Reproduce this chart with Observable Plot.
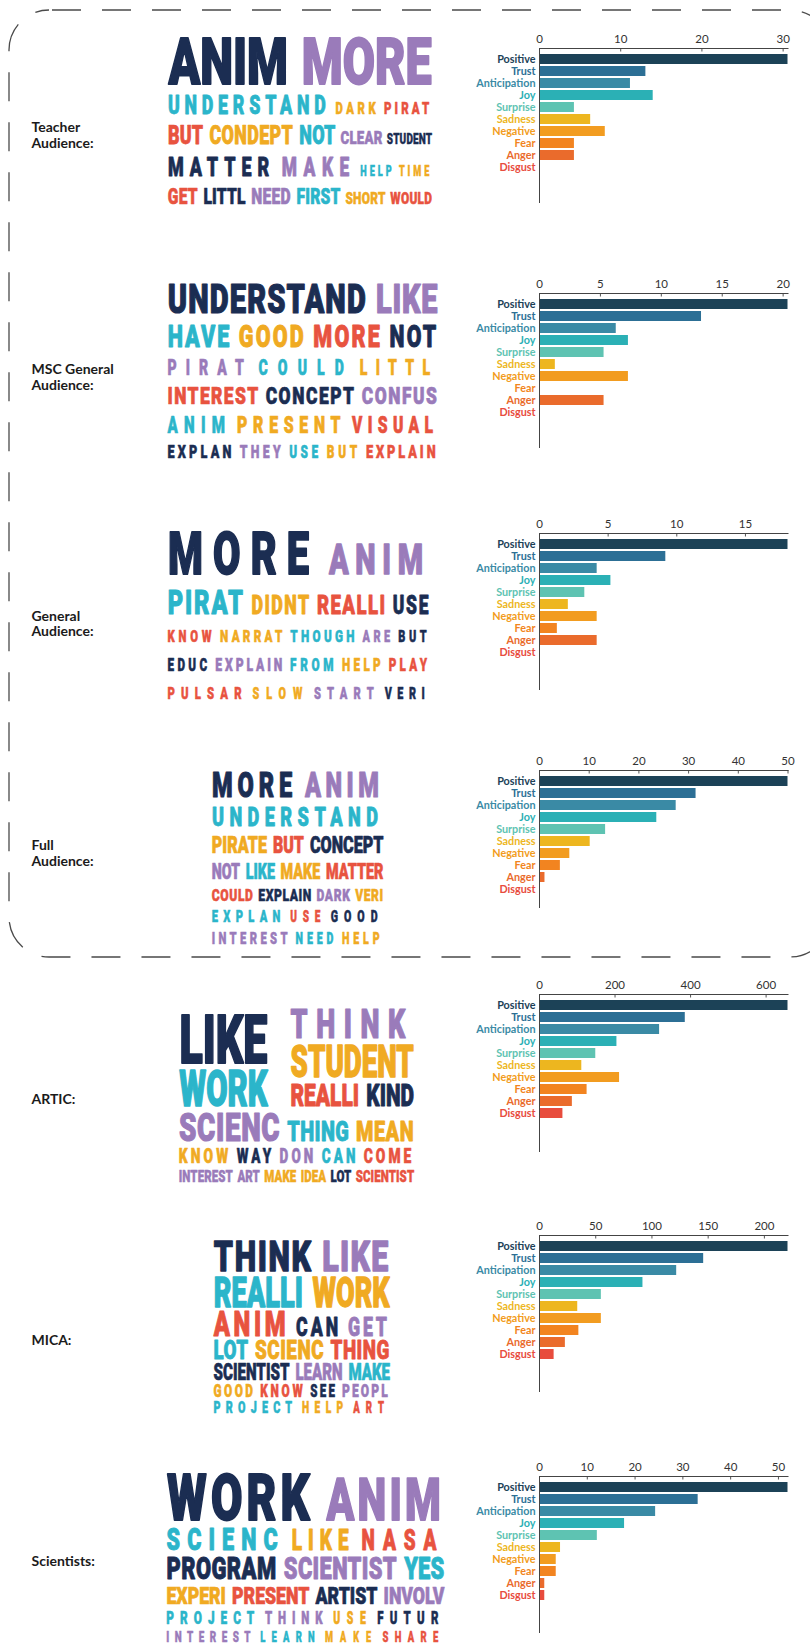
<!DOCTYPE html>
<html><head><meta charset="utf-8">
<script src="https://cdn.jsdelivr.net/npm/d3@7"></script>
<script src="https://cdn.jsdelivr.net/npm/@observablehq/plot@0.6"></script>
<style>
html,body{margin:0;padding:0;background:#fff;}
#page{position:relative;width:810px;height:1644px;overflow:hidden;background:#fff;}
</style></head><body><div id="page"></div>
<script>
// ---------------- DATA ----------------
const emotions = ["Positive","Trust","Anticipation","Joy","Surprise","Sadness","Negative","Fear","Anger","Disgust"];

const teacherCounts   = [30.6, 13.1, 11.2, 14.0, 4.3, 6.3, 8.1, 4.3, 4.3, 0];
const mscCounts       = [20.4, 13.3, 6.3, 7.3, 5.3, 1.3, 7.3, 0, 5.3, 0];
const generalCounts   = [18.1, 9.2, 4.2, 5.2, 3.3, 2.1, 4.2, 1.3, 4.2, 0];
const fullCounts      = [50, 31.5, 27.5, 23.6, 13.3, 10.2, 6.1, 4.2, 1.1, 0];
const articCounts     = [658, 386, 318, 205, 149, 112, 212, 126, 87, 62];
const micaCounts      = [221, 146, 122, 92, 55, 34, 55, 35, 23, 13];
const scientistCounts = [52, 33.2, 24.3, 17.8, 12.1, 4.4, 3.5, 3.5, 1.1, 1.1];

const panelLabels = ["Teacher\nAudience:", "MSC General\nAudience:", "General\nAudience:", "Full\nAudience:", "ARTIC:", "MICA:", "Scientists:"];

// word clouds: rows of words, parallel weights and colour groups (nested arrays = stacked sub-blocks)
// colour groups: N = navy, P = purple, T = teal, O = orange, R = red
const teacherWords = [["ANIM","MORE"],["UNDERSTAND","DARK","PIRAT"],["BUT","CONDEPT","NOT","CLEAR","STUDENT"],["MATTER","MAKE","HELP","TIME"],["GET","LITTL","NEED","FIRST","SHORT","WOULD"]];
const teacherWeights = [[47,47],[18.3,12.3,12.3],[18,18,18,13.3,10],[19,19,10,10],[15.7,15.7,15.7,15.7,12,12]];
const teacherTones = [["N","P"],["T","O","R"],["R","O","T","P","N"],["N","P","T","O"],["R","N","P","T","O","R"]];

const mscWords = [["UNDERSTAND","LIKE"],["HAVE","GOOD","MORE","NOT"],["PIRAT","COULD","LITTL"],["INTEREST","CONCEPT","CONFUS"],["ANIM","PRESENT","VISUAL"],["EXPLAN","THEY","USE","BUT","EXPLAIN"]];
const mscWeights = [[29.3,29.3],[22.3,22.3,22.3,22.3],[15.7,15.7,15.7],[17.7,17.7,17.7],[16.7,16.7,16.7],[13.3,13.3,13.3,13.3,13.3]];
const mscTones = [["N","P"],["T","O","R","N"],["P","T","O"],["R","N","P"],["T","O","R"],["N","P","T","O","R"]];

const generalWords = [["MORE","ANIM"],["PIRAT","DIDNT","REALLI","USE"],["KNOW","NARRAT","THOUGH","ARE","BUT"],["EDUC","EXPLAIN","FROM","HELP","PLAY"],["PULSAR","SLOW","START","VERI"]];
const generalWeights = [[42.7,31],[24.3,18.3,19,18.3],[12.3,12.3,12.3,12.3,12.3],[12.7,12.7,12.7,12.7,12.7],[12.3,12.3,12.3,12.3]];
const generalTones = [["N","P"],["T","O","R","N"],["R","O","T","P","N"],["N","P","T","O","R"],["R","O","P","N"]];

const fullWords = [["MORE","ANIM"],["UNDERSTAND"],["PIRATE","BUT","CONCEPT"],["NOT","LIKE","MAKE","MATTER"],["COULD","EXPLAIN","DARK","VERI"],["EXPLAN","USE","GOOD"],["INTEREST","NEED","HELP"]];
const fullWeights = [[25,25],[18.7],[17.3,17.3,17.3],[16,16,16,16],[12.3,12.3,12.3,12.3],[12,12,12],[11.7,11.7,11.7]];
const fullTones = [["N","P"],["T"],["O","R","N"],["P","T","O","R"],["R","N","P","O"],["T","R","N"],["P","T","O"]];

const articWords = [[[["LIKE"],["WORK"]],[["THINK"],["STUDENT"],["REALLI","KIND"]]],["SCIENC","THING","MEAN"],["KNOW","WAY","DON","CAN","COME"],["INTEREST","ART","MAKE","IDEA","LOT","SCIENTIST"]];
const articWeights = [[[[48],[36]],[[29],[32],[22,22]]],[28,20,20],[14.7,14.7,14.7,14.7,14.7],[11.5,11.5,11.5,11.5,11.5,11.5]];
const articTones = [[[["N"],["T"]],[["P"],["O"],["R","N"]]],["P","T","O"],["O","N","P","T","R"],["P","P","O","O","N","R"]];

const micaWords = [["THINK","LIKE"],["REALLI","WORK"],["ANIM","CAN","GET"],["LOT","SCIENC","THING"],["SCIENTIST","LEARN","MAKE"],["GOOD","KNOW","SEE","PEOPL"],["PROJECT","HELP","ART"]];
const micaWeights = [[31,31],[31,31],[25,19,19],[19,19,19],[16.8,16.8,16.8],[12.6,12.6,12.6,12.6],[11.5,11.5,11.5]];
const micaTones = [["N","P"],["T","O"],["R","N","P"],["T","O","R"],["N","P","T"],["O","R","N","P"],["T","O","R"]];

const scientistWords = [["WORK","ANIM"],["SCIENC","LIKE","NASA"],["PROGRAM","SCIENTIST","YES"],["EXPERI","PRESENT","ARTIST","INVOLV"],["PROJECT","THINK","USE","FUTUR"],["INTEREST","LEARN","MAKE","SHARE"]];
const scientistWeights = [[47,42],[23,21,21],[22,22,22],[17.8,17.8,17.8,17.8],[12.6,12.6,12.6,12.6],[10.5,10.5,10.5,10.5]];
const scientistTones = [["N","P"],["T","O","R"],["N","P","T"],["O","R","N","P"],["T","P","O","N"],["P","T","O","R"]];

// ---------------- STYLE / LAYOUT ----------------
const emotionPalette = ["#1c4257","#2c6f95","#3a8aa5","#2bb0b5","#5ec3b2","#edb61f","#f29c20","#f28420","#ea6b2c","#e84c3d"];
const toneNames = ["N","P","T","O","R"];
const tonePalette = ["#1b2d52","#9a7bba","#2bb5ca","#f0aa22","#e8533f"];

const panels = [
  {counts: teacherCounts, words: teacherWords, weights: teacherWeights, tones: teacherTones, axisY: 48.3, frameH: 155, labelY: 134.7, box: [167, 432, 36, 203.3]},
  {counts: mscCounts, words: mscWords, weights: mscWeights, tones: mscTones, axisY: 293.3, frameH: 155, labelY: 376.7, box: [166.7, 438.3, 283.3, 457.7]},
  {counts: generalCounts, words: generalWords, weights: generalWeights, tones: generalTones, axisY: 533.3, frameH: 157, labelY: 623, box: [166.7, 430, 530.7, 698.3]},
  {counts: fullCounts, words: fullWords, weights: fullWeights, tones: fullTones, axisY: 770, frameH: 138, labelY: 852.5, box: [211, 383.3, 771.7, 943.3]},
  {counts: articCounts, words: articWords, weights: articWeights, tones: articTones, axisY: 994, frameH: 158, labelY: 1098.3, box: [178, 414, 1008, 1181]},
  {counts: micaCounts, words: micaWords, weights: micaWeights, tones: micaTones, axisY: 1235, frameH: 157, labelY: 1339.3, box: [212.7, 389.8, 1239.8, 1412.7]},
  {counts: scientistCounts, words: scientistWords, weights: scientistWeights, tones: scientistTones, axisY: 1476, frameH: 157, labelY: 1560.5, box: [165.6, 444.4, 1472.4, 1641]}
];

// ---------------- WORD CLOUD LAYOUT ----------------
const CLOUD_FONT = 'Roboto, "Liberation Sans", "DejaVu Sans", sans-serif';
const CLOUD_WEIGHT = 900;
const COND = 0.72;
const ctx = document.createElement("canvas").getContext("2d");
ctx.font = `${CLOUD_WEIGHT} 100px ${CLOUD_FONT}`;
const capRatio = (ctx.measureText("H").actualBoundingBoxAscent || 71.1) / 100;
const fontSizeOf = cap => cap / capRatio;
const glyphWidth = (word, cap) => ctx.measureText(word).width / 100 * fontSizeOf(cap);

const isBlock = c => Array.isArray(c);
const gapX = (h1, h2) => 0.22 * Math.min(h1, h2) + 1.5;
function cellHeight(c, w, g) { return isBlock(c) ? blockHeight(c, w, g) : w; }
function rowHeight(row, ws, g) { return d3.max(row, (c, i) => cellHeight(c, ws[i], g)); }
function blockHeight(rows, ws, g) { return d3.sum(rows, (r, i) => rowHeight(r, ws[i], g)) + g * (rows.length - 1); }
function cellNat(c, w, g) { return isBlock(c) ? d3.max(c, (r, i) => rowNat(r, w[i], g)) : COND * glyphWidth(c, w); }
function rowNat(row, ws, g) {
  let s = 0;
  row.forEach((c, i) => {
    s += cellNat(c, ws[i], g);
    if (i > 0) s += gapX(cellHeight(row[i-1], ws[i-1], g), cellHeight(c, ws[i], g));
  });
  return s;
}
function layoutBlock(rows, ws, ts, x0, x1, top, g, out) {
  let y = top;
  rows.forEach((row, r) => {
    const hs = row.map((c, i) => cellHeight(c, ws[r][i], g));
    const rh = d3.max(hs);
    const gaps = row.slice(1).map((c, i) => gapX(hs[i], hs[i+1]));
    const nats = row.map((c, i) => cellNat(c, ws[r][i], g));
    const k = (x1 - x0 - d3.sum(gaps)) / d3.sum(nats);
    let x = x0;
    row.forEach((c, i) => {
      const w = nats[i] * k;
      if (isBlock(c)) layoutBlock(c, ws[r][i], ts[r][i], x, x + w, y + rh - hs[i], g, out);
      else out.push({word: c, tone: ts[r][i], cap: ws[r][i], x, y: y + rh, w});
      x += w + (i < gaps.length ? gaps[i] : 0);
    });
    y += rh + g;
  });
}
function fitGap(rows, ws, H) {
  let g = 0;
  for (let it = 0; it < 3; it++) {
    const a = blockHeight(rows, ws, g);
    const b = blockHeight(rows, ws, g + 1) - a;
    g = g + (H - a) / b;
  }
  return g;
}

const cloudWords = [];
panels.forEach(p => {
  const [x0, x1, top, bottom] = p.box;
  const g = fitGap(p.words, p.weights, bottom - top);
  const out = [];
  layoutBlock(p.words, p.weights, p.tones, x0, x1, top, g, out);
  out.forEach(d => {
    const fs = fontSizeOf(d.cap);
    const sw = 0.03 * fs;
    const w = d.w - sw;
    const m = glyphWidth(d.word, d.cap);
    const n = d.word.length;
    let ls = 0;
    if (n > 1 && w >= COND * m) ls = (w / COND - m) / (n - 1);
    cloudWords.push({...d, x: d.x + sw / 2, fs, sw, tl: w, ls});
  });
});

// ---------------- PAGE (border, labels, word clouds) ----------------
const page = document.getElementById("page");
const border = [{x1: 9, x2: 830, y1: 10, y2: 957}];
const labelData = panelLabels.map((t, i) => ({text: t, y: panels[i].labelY}));

const pagePlot = Plot.plot({
  width: 810, height: 1644, margin: 0,
  style: {background: "transparent", overflow: "visible"},
  x: {type: "identity"}, y: {type: "identity"},
  color: {type: "ordinal", domain: toneNames, range: tonePalette},
  marks: [
    Plot.rect(border, {x1: "x1", x2: "x2", y1: "y1", y2: "y2", rx: 40, fill: "none", stroke: "#4a4a4a", strokeWidth: 1.3, strokeDasharray: "29 21", strokeDashoffset: -3}),
    Plot.text(labelData, {x: 31, y: "y", text: "text", textAnchor: "start", lineAnchor: "middle", lineHeight: 1.12, fontFamily: "Lato", fontWeight: 700, fontSize: 14, fill: "#1b1b1b"}),
    Plot.text(cloudWords, {x: "x", y: "y", text: "word", fill: "tone", stroke: "tone", strokeWidth: "sw", strokeLinejoin: "round", fontSize: "fs", textAnchor: "start", lineAnchor: "bottom", fontFamily: CLOUD_FONT, fontWeight: CLOUD_WEIGHT})
  ]
});
pagePlot.style.position = "absolute";
pagePlot.style.left = "0px";
pagePlot.style.top = "0px";
page.appendChild(pagePlot);

// fit each cloud word to its allotted width (condensed glyphs + letter spacing)
const textGroups = pagePlot.querySelectorAll('g[aria-label="text"]');
const wordGroup = textGroups[textGroups.length - 1];
wordGroup.querySelectorAll("text").forEach((el, i) => {
  const d = cloudWords[i];
  if (!d) return;
  if (d.ls) el.style.letterSpacing = d.ls + "px";
  el.setAttribute("textLength", d.tl);
  el.setAttribute("lengthAdjust", "spacingAndGlyphs");
});

// ---------------- BAR CHARTS ----------------
function barChart(p) {
  const xMax = d3.max(p.counts);
  const ticks = d3.ticks(0, xMax, 4);
  const data = emotions.map((e, i) => ({emotion: e, count: p.counts[i]}));
  const mt = 28, fh = p.frameH;
  const svg = Plot.plot({
    width: 370, height: mt + fh + 4,
    marginLeft: 99, marginRight: 22.5, marginTop: mt, marginBottom: 4,
    style: {background: "transparent", overflow: "visible"},
    x: {domain: [0, xMax]},
    y: {domain: emotions, range: [mt + 6.1, mt + 6.1 + 124.6], padding: 0.13, align: 0, axis: null},
    color: {domain: emotions, range: emotionPalette},
    marks: [
      Plot.barX(data, {y: "emotion", x: "count", fill: "emotion", insetLeft: 1}),
      Plot.text(data, {y: "emotion", x: 0, text: "emotion", textAnchor: "end", dx: -4, fill: "emotion", fontFamily: "Lato", fontWeight: 700, fontSize: 10.8}),
      Plot.axisX({anchor: "top", ticks, tickSize: 0, tickPadding: 6, fontFamily: "Lato", fontSize: 11.5, color: "#333", label: null}),
      Plot.ruleX(ticks, {insetBottom: fh - 3.5, stroke: "#555"}),
      Plot.ruleX([0], {stroke: "#444"}),
      Plot.frame({anchor: "top", stroke: "#444"})
    ]
  });
  svg.style.position = "absolute";
  svg.style.left = "440px";
  svg.style.top = (p.axisY - mt) + "px";
  return svg;
}
panels.forEach(p => page.appendChild(barChart(p)));
</script></body></html>
